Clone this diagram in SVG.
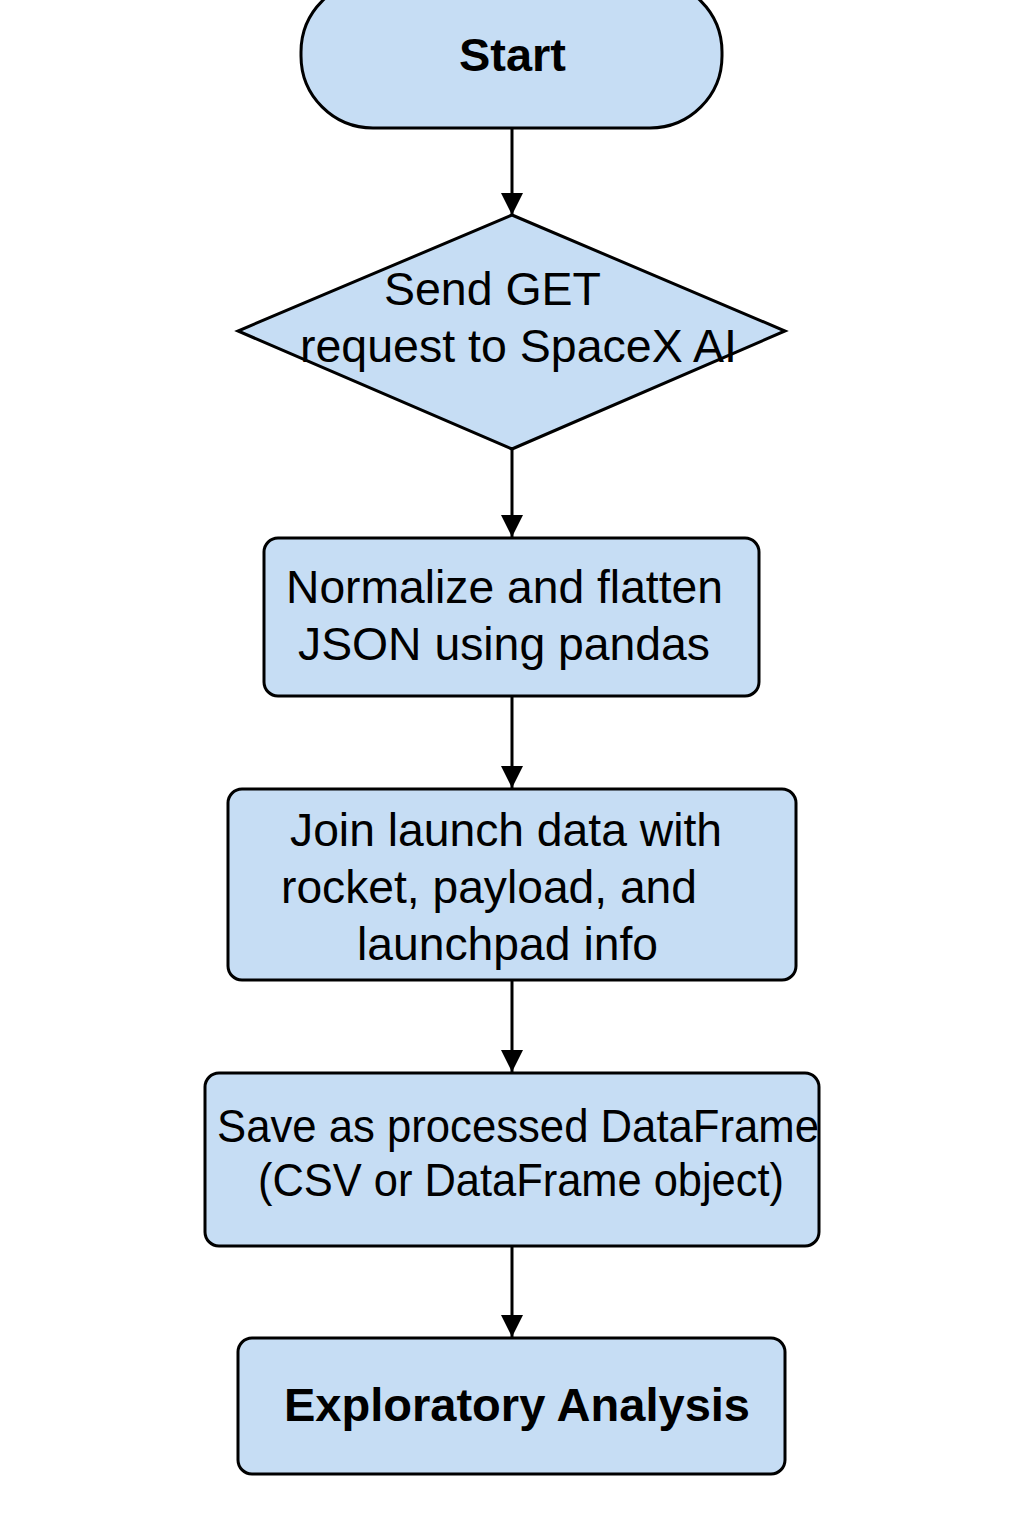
<svg xmlns="http://www.w3.org/2000/svg" width="1024" height="1536" viewBox="0 0 1024 1536">
<style>
.shape{fill:#c6ddf4;stroke:#000;stroke-width:3}
.t{font-family:"Liberation Sans",Arial,sans-serif;font-size:46px;fill:#000}
.b{font-weight:bold}
.c{stroke:#000;stroke-width:3;fill:none}
</style>
<defs>
<marker id="ah" markerUnits="userSpaceOnUse" markerWidth="22" markerHeight="24" refX="22" refY="11" orient="auto">
<path d="M0,0 L22,11 L0,22 Z" fill="#000"/>
</marker>
</defs>
<rect width="1024" height="1536" fill="#fff"/>
<g id="connectors">
<line class="c" x1="512" y1="128" x2="512" y2="215" marker-end="url(#ah)"/>
<line class="c" x1="512" y1="449" x2="512" y2="537" marker-end="url(#ah)"/>
<line class="c" x1="512" y1="696" x2="512" y2="788" marker-end="url(#ah)"/>
<line class="c" x1="512" y1="980" x2="512" y2="1072" marker-end="url(#ah)"/>
<line class="c" x1="512" y1="1246" x2="512" y2="1337" marker-end="url(#ah)"/>
</g>
<g id="start">
<rect class="shape" x="301" y="-20" width="421" height="148" rx="72" ry="72"/>
<text class="t b" x="459" y="71" textLength="107" lengthAdjust="spacingAndGlyphs">Start</text>
</g>
<g id="send-get">
<polygon class="shape" points="512,215 785,331 512,449 238,331"/>
<text class="t" x="384" y="305" textLength="217" lengthAdjust="spacingAndGlyphs">Send GET</text>
<text class="t" x="300" y="362" textLength="437" lengthAdjust="spacingAndGlyphs">request to SpaceX AI</text>
</g>
<g id="normalize">
<rect class="shape" x="264" y="538" width="495" height="158" rx="14" ry="14"/>
<text class="t" x="286" y="603" textLength="437" lengthAdjust="spacingAndGlyphs">Normalize and flatten</text>
<text class="t" x="298" y="660" textLength="412" lengthAdjust="spacingAndGlyphs">JSON using pandas</text>
</g>
<g id="join">
<rect class="shape" x="228" y="789" width="568" height="191" rx="14" ry="14"/>
<text class="t" x="290" y="846" textLength="432" lengthAdjust="spacingAndGlyphs">Join launch data with</text>
<text class="t" x="281" y="903" textLength="416" lengthAdjust="spacingAndGlyphs">rocket, payload, and</text>
<text class="t" x="357" y="960" textLength="301" lengthAdjust="spacingAndGlyphs">launchpad info</text>
</g>
<g id="save">
<rect class="shape" x="205" y="1073" width="614" height="173" rx="14" ry="14"/>
<text class="t" x="217" y="1142" font-size="44" textLength="602" lengthAdjust="spacingAndGlyphs">Save as processed DataFrame</text>
<text class="t" x="258" y="1196" font-size="44" textLength="526" lengthAdjust="spacingAndGlyphs">(CSV or DataFrame object)</text>
</g>
<g id="exploratory">
<rect class="shape" x="238" y="1338" width="547" height="136" rx="14" ry="14"/>
<text class="t b" x="284" y="1421" textLength="466" lengthAdjust="spacingAndGlyphs">Exploratory Analysis</text>
</g>
</svg>
